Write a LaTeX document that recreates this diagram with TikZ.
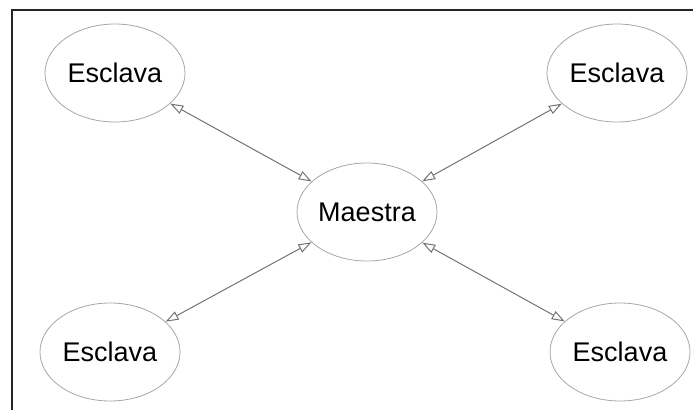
\documentclass[tikz,border=0pt]{standalone}
\usepackage{fontspec}
\setmainfont{Liberation Sans}
\usetikzlibrary{arrows.meta,shapes.geometric}
\begin{document}
\begin{tikzpicture}[x=1pt,y=-1pt,
  peer/.style={ellipse, draw=black!35, line width=0.8pt, minimum width=140pt, minimum height=98pt, inner sep=0pt, font=\fontsize{27}{30}\selectfont, text=black},
  link/.style={draw=black!55, line width=1pt, {Triangle[open,length=13pt,width=9pt]}-{Triangle[open,length=13pt,width=9pt]}}
]
  \useasboundingbox (0,0) rectangle (693,410);
  % frame
  \coordinate (fa) at (693,10);
  \coordinate (fb) at (12,10);
  \coordinate (fc) at (12,410);
  \draw[line width=2.2pt, black!85] (fa) -- (fb) -- (fc);
  % nodes
  \node[peer] (m)  at (367,212) {Maestra};
  \node[peer] (s1) at (115,73)  {Esclava};
  \node[peer] (s2) at (617,73)  {Esclava};
  \node[peer] (s3) at (110,352) {Esclava};
  \node[peer] (s4) at (620,352) {Esclava};
  % connectors
  \draw[link] (s1) -- (m);
  \draw[link] (s2) -- (m);
  \draw[link] (s3) -- (m);
  \draw[link] (s4) -- (m);
\end{tikzpicture}
\end{document}
